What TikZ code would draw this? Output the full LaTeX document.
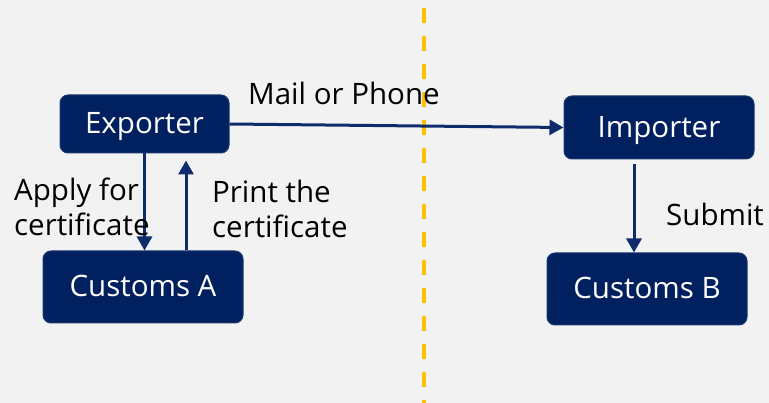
\documentclass[tikz,border=0pt]{standalone}
\usepackage{fontspec}
\setmainfont{Open Sans}
\usetikzlibrary{arrows.meta}
\definecolor{navy}{HTML}{002060}
\definecolor{navyedge}{HTML}{1A3A6E}
\definecolor{flow}{HTML}{0E2C6B}
\definecolor{border}{HTML}{FFC000}
\definecolor{paper}{HTML}{F2F2F2}
\begin{document}
\begin{tikzpicture}[x=1pt,y=-1pt,
  party/.style={draw=navyedge,line width=1pt,fill=navy,rounded corners=8pt,
    text=white,font=\fontsize{29.5}{35}\selectfont,inner sep=0pt,
    text height=20pt,text depth=0pt},
  flowarrow/.style={draw=flow,line width=3pt,-{Triangle[length=14pt,width=15pt]}},
  caption/.style={font=\fontsize{29.5}{35}\selectfont,text=black,inner sep=0pt,align=left}]
  \fill[paper] (0,0) rectangle (769,403);
  \useasboundingbox (0,0) rectangle (769,403);
  % boundary between the two countries
  \coordinate (bt) at (424,8);
  \coordinate (bb) at (424,403);
  \draw[border,line width=4pt,dash pattern=on 15pt off 13pt] (bt) -- (bb);
  % parties
  \node[party,minimum width=169pt,minimum height=58pt] (exp) at (144.5,124) {Exporter};
  \node[party,minimum width=200pt,minimum height=72pt] (ca) at (143,287) {Customs A};
  \node[party,minimum width=190pt,minimum height=63pt] (imp) at (659,127.5) {Importer};
  \node[party,minimum width=200pt,minimum height=72pt] (cb) at (647,289) {Customs B};
  % flows
  \draw[flowarrow] (exp.east) -- (imp.west);
  \draw[flowarrow] (exp.south) -- (exp.south |- ca.north);
  \draw[flowarrow,shorten >=7pt] (ca.north -| 186,0) -- (exp.south -| 186,0);
  \draw[flowarrow,shorten <=5pt] (imp.south -| 634,0) -- (cb.north -| 634,0);
  % labels
  \node[caption,anchor=west] (l1) at (248,93) {Mail or Phone};
  \node[caption,anchor=west] (l2) at (14,207) {Apply for\\certificate};
  \node[caption,anchor=west] (l3) at (212,209) {Print the\\certificate};
  \node[caption,anchor=west] (l4) at (666,214) {Submit};
\end{tikzpicture}
\end{document}
